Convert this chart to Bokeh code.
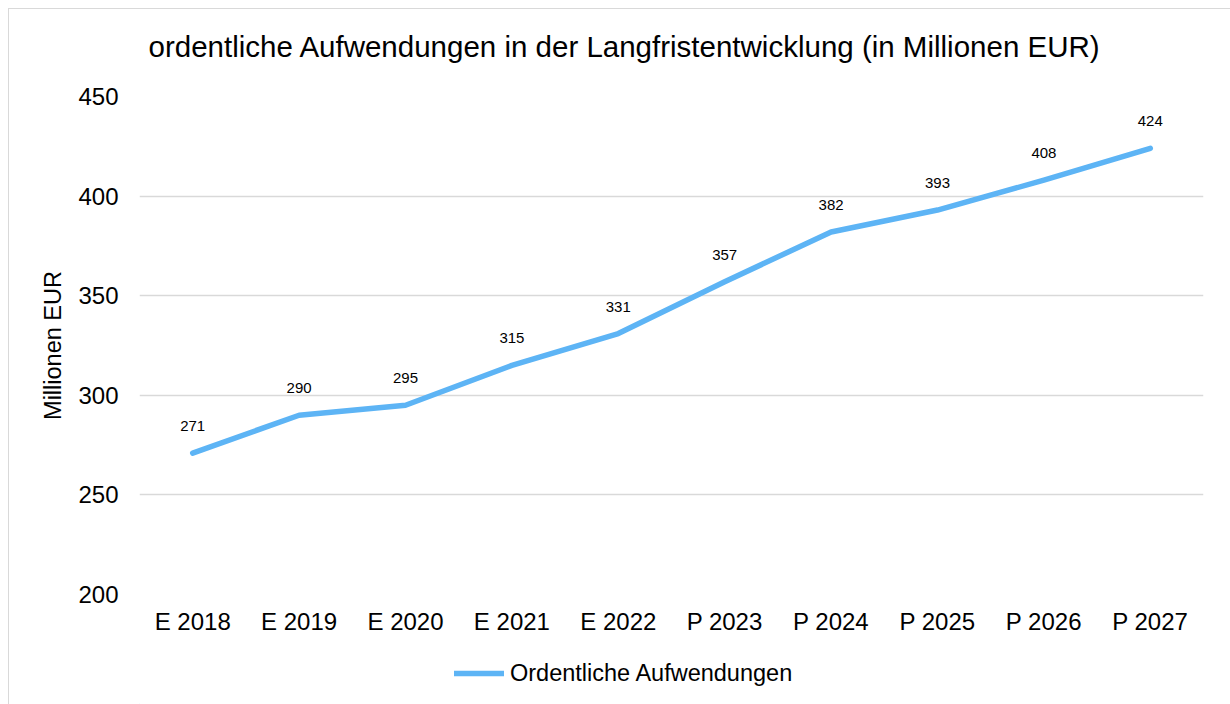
from bokeh.plotting import figure
from bokeh.layouts import column
from bokeh.models import ColumnDataSource, LabelSet, Label, Legend, LegendItem, FixedTicker, Range1d
from bokeh.core.properties import value
from bokeh.embed import file_html
from bokeh.resources import INLINE

categories = ["E 2018", "E 2019", "E 2020", "E 2021", "E 2022",
              "P 2023", "P 2024", "P 2025", "P 2026", "P 2027"]
values = [271, 290, 295, 315, 331, 357, 382, 393, 408, 424]
y_ticks = [200, 250, 300, 350, 400, 450]
series_name = "Ordentliche Aufwendungen"
title_text = "ordentliche Aufwendungen in der Langfristentwicklung (in Millionen EUR)"
y_label = "Millionen EUR"

FONT = "Liberation Sans"
LINE_COLOR = "#5DB4F5"
W = 1221


def strip(h):
    f = figure(width=W, height=h, x_range=Range1d(0, 1064), y_range=Range1d(0, h),
               x_axis_type=None, y_axis_type=None, output_backend="svg", toolbar_location=None,
               min_border_left=0, min_border_right=0, min_border_top=0, min_border_bottom=0)
    f.outline_line_color = None
    f.xgrid.visible = False
    f.ygrid.visible = False
    return f


# title strip (its frame is aligned with the chart's frame)
p0 = strip(60)
p0.add_layout(Label(x=9, y=23, text=title_text, text_font=FONT, text_font_size="29.5px",
                    text_color="#000000", text_align="left", text_baseline="middle"))

src = ColumnDataSource(dict(x=categories, y=values, lbl=[str(v) for v in values]))

p = figure(x_range=categories, y_range=Range1d(200, 450),
           width=W, height=581, output_backend="svg", toolbar_location=None,
           min_border_left=130, min_border_right=27, min_border_top=27, min_border_bottom=56)
p.x_range.range_padding = 0
p.outline_line_color = None

for ax in (p.xaxis[0], p.yaxis[0]):
    ax.axis_line_color = None
    ax.major_tick_line_color = None
    ax.minor_tick_line_color = None
    ax.major_tick_in = 0
    ax.major_tick_out = 0
    ax.minor_tick_out = 0
    ax.major_label_text_font = FONT
    ax.major_label_text_font_size = "24px"
    ax.major_label_text_color = "#000000"

p.yaxis.ticker = FixedTicker(ticks=y_ticks)
p.yaxis.major_label_standoff = 21
p.yaxis.axis_label = y_label
p.yaxis.axis_label_text_font = FONT
p.yaxis.axis_label_text_font_size = "23.5px"
p.yaxis.axis_label_text_font_style = "normal"
p.yaxis.axis_label_text_color = "#000000"
p.yaxis.axis_label_standoff = 9
p.xaxis.major_label_standoff = 13

p.xgrid.grid_line_color = None
p.ygrid.grid_line_color = "#d9d9d9"
p.ygrid.grid_line_width = 1.5
p.ygrid.ticker = FixedTicker(ticks=y_ticks)

r = p.line("x", "y", source=src, line_color=LINE_COLOR, line_width=5.5,
           line_cap="round", line_join="round")

labels = LabelSet(x="x", y="y", text="lbl", source=src, text_align="center",
                  text_baseline="alphabetic", y_offset=22, text_font=value(FONT),
                  text_font_size=value("15px"), text_color=value("#000000"))
p.add_layout(labels)

# legend strip below the chart
p2 = strip(54)
r2 = p2.line(x=[-2, -1], y=[-2, -2], line_color=LINE_COLOR, line_width=5.5, line_cap="round")
legend = Legend(items=[LegendItem(label=series_name, renderers=[r2])],
                location=(315, 16), orientation="horizontal",
                glyph_width=50, glyph_height=30, label_height=30,
                label_standoff=6, padding=0, margin=0,
                border_line_alpha=0, background_fill_alpha=0,
                label_text_font=FONT, label_text_font_size="23.5px", label_text_color="#000000")
p2.add_layout(legend, "center")

layout = column(p0, p, p2, spacing=0)
layout.margin = (8, 0, 0, 8)
layout.styles = {"border-top": "1px solid #d9d9d9", "border-left": "1px solid #d9d9d9"}

open("out.html", "w").write(file_html(layout, INLINE))
